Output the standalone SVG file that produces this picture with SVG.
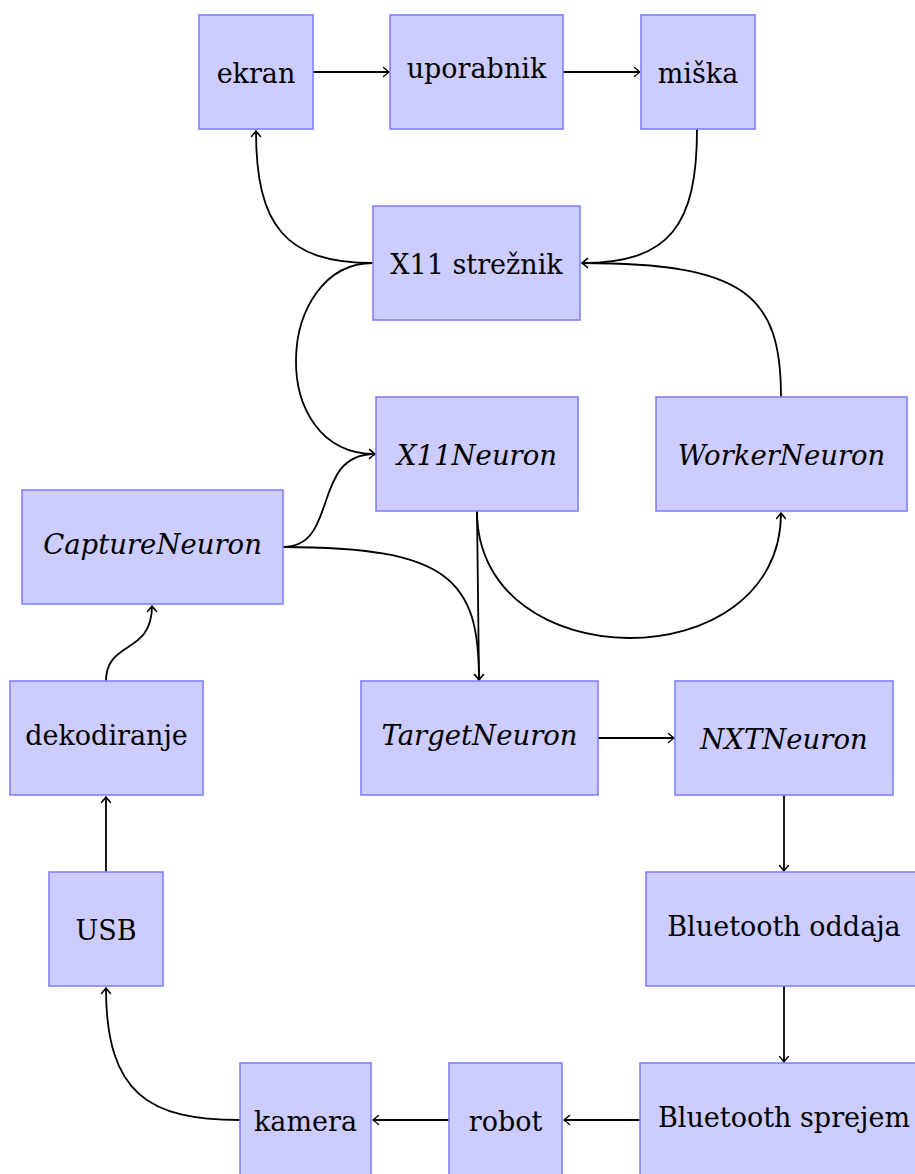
<svg xmlns="http://www.w3.org/2000/svg" width="915" height="1174" viewBox="0 0 915 1174">
<style>
.box{fill:#ccccff;stroke:#8080ff;stroke-width:1.6}
.t{font-family:"DejaVu Serif","Liberation Serif",serif;font-size:27px;fill:#000;text-anchor:middle}
.i{font-style:italic;font-size:27.5px}
.c{fill:none;stroke:#000;stroke-width:1.8;marker-end:url(#arr)}
</style>
<defs>
<marker id="arr" markerUnits="userSpaceOnUse" viewBox="-8 -6 10 12" refX="0" refY="0" markerWidth="10" markerHeight="12" orient="auto">
<path d="M-5.5,-4.5 Q-1.5,-1 0,0 Q-1.5,1 -5.5,4.5" fill="none" stroke="#000" stroke-width="1.4" stroke-linecap="round"/>
</marker>
</defs>
<rect width="915" height="1174" fill="#fff"/>
<g id="connectors">
<path class="c" d="M313,72 L389,72"/>
<path class="c" d="M563,72 L640,72"/>
<path class="c" d="M697,129 C697,225 670,263 582,263"/>
<path class="c" d="M781,397 C781,295 745,263 582,263"/>
<path class="c" d="M373,263 C285,263 256,225 256,131"/>
<path class="c" d="M373,263 C275,263 265,454 375,454"/>
<path class="c" d="M283,547 C340,547 310,454 375,454"/>
<path class="c" d="M283,547 C450,547 479,580 479,680"/>
<path class="c" d="M477,511 L479,680"/>
<path class="c" d="M477,511 C477,680 781,680 781,513"/>
<path class="c" d="M598,738 L674,738"/>
<path class="c" d="M784,795 L784,871"/>
<path class="c" d="M784,986 L784,1062"/>
<path class="c" d="M640,1120 L564,1120"/>
<path class="c" d="M449,1120 L373,1120"/>
<path class="c" d="M240,1120 C150,1120 106,1095 106,988"/>
<path class="c" d="M106,872 L106,797"/>
<path class="c" d="M106,681 C106,640 152,655 152,606"/>
</g>
<g id="ekran"><rect class="box" x="199" y="15" width="114" height="114"/><text class="t" x="256" y="83">ekran</text></g>
<g id="uporabnik"><rect class="box" x="390" y="15" width="173" height="114"/><text class="t" x="476.5" y="78">uporabnik</text></g>
<g id="miska"><rect class="box" x="641" y="15" width="114" height="114"/><text class="t" x="698" y="83">miška</text></g>
<g id="x11streznik"><rect class="box" x="373" y="206" width="207" height="114"/><text class="t" x="476.5" y="274">X11 strežnik</text></g>
<g id="x11neuron"><rect class="box" x="376" y="397" width="202" height="114"/><text class="t i" x="477" y="465">X11Neuron</text></g>
<g id="workerneuron"><rect class="box" x="656" y="397" width="251" height="114"/><text class="t i" x="781.5" y="465">WorkerNeuron</text></g>
<g id="captureneuron"><rect class="box" x="22" y="490" width="261" height="114"/><text class="t i" x="152.5" y="554">CaptureNeuron</text></g>
<g id="dekodiranje"><rect class="box" x="10" y="681" width="193" height="114"/><text class="t" x="106.5" y="745">dekodiranje</text></g>
<g id="targetneuron"><rect class="box" x="361" y="681" width="237" height="114"/><text class="t i" x="479.5" y="745">TargetNeuron</text></g>
<g id="nxtneuron"><rect class="box" x="675" y="681" width="218" height="114"/><text class="t i" x="784" y="749">NXTNeuron</text></g>
<g id="usb"><rect class="box" x="49" y="872" width="114" height="114"/><text class="t" x="106" y="940">USB</text></g>
<g id="bluetooth-oddaja"><rect class="box" x="646" y="872" width="276" height="114"/><text class="t" x="784" y="936">Bluetooth oddaja</text></g>
<g id="bluetooth-sprejem"><rect class="box" x="640" y="1063" width="288" height="114"/><text class="t" x="784" y="1127">Bluetooth sprejem</text></g>
<g id="robot"><rect class="box" x="449" y="1063" width="113" height="114"/><text class="t" x="505.5" y="1131">robot</text></g>
<g id="kamera"><rect class="box" x="240" y="1063" width="131" height="114"/><text class="t" x="305.5" y="1131">kamera</text></g>
</svg>
